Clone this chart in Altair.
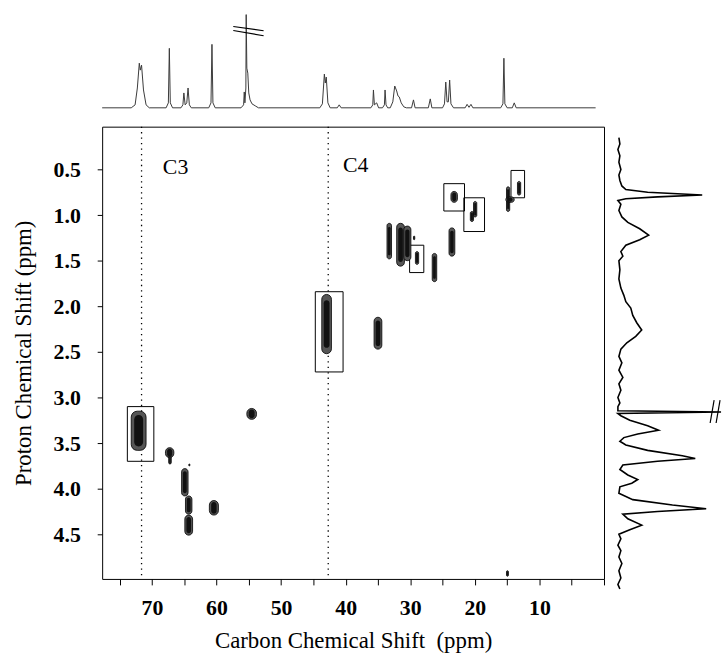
import altair as alt
import pandas as pd

# ---------------- data ----------------
# 13C projection (top): vertices of the trace, ppm and intensity
c_ppm = [77.7, 73.2, 72.6, 72.25, 71.95, 71.8, 71.6, 71.3, 70.9, 70.4,
         67.8, 67.45, 67.3, 67.15, 66.8,
         65.5, 65.2, 65.05, 64.85, 64.6, 64.4, 64.2, 63.9,
         61.2, 60.85, 60.7, 60.55, 60.2,
         56.2, 55.8, 55.7, 55.6, 55.45, 55.4, 55.3, 55.15, 55.0, 54.8, 54.5, 54.0, 53.5,
         44.0, 43.6, 43.3, 43.15, 43.0, 42.75, 42.4,
         41.3, 41.0, 40.7,
         36.1, 35.8, 35.7, 35.55, 35.2, 34.9,
         34.3, 34.0, 33.9, 33.75, 33.5,
         33.1, 32.7, 32.4, 32.1, 31.9, 31.7, 31.4, 31.0, 30.6,
         29.8, 29.5, 29.25,
         27.2, 26.9, 26.65,
         25.0, 24.7, 24.5, 24.3, 24.1, 23.9, 23.7, 23.3,
         21.5, 21.2, 20.9, 20.6, 20.3,
         16.0, 15.65, 15.5, 15.35, 15.0,
         14.2, 13.9, 13.6, 1.3]
c_int = [0, 0, 3, 20, 45, 38, 43, 18, 3, 0,
         0, 5, 60, 5, 0,
         0, 3, 15, 3, 5, 20, 3, 0,
         0, 5, 64, 5, 0,
         0, 3, 16, 5, 20, 94, 40, 35, 15, 8, 4, 2, 0,
         0, 4, 34, 25, 31, 5, 0,
         0, 3, 0,
         0, 3, 18, 3, 5, 0,
         0, 3, 18, 3, 0,
         0, 6, 22, 17, 12, 11, 5, 1, 0,
         0, 8, 0,
         0, 9, 0,
         0, 4, 26, 6, 6, 28, 4, 0,
         0, 3.5, 0.5, 3.5, 0,
         0, 4, 50, 4, 0,
         0, 5, 0, 0]
# break marks on the truncated 13C peak
c_break_x = [57.4, 57.4]
c_break_x2 = [52.7, 52.7]
c_break_y = [82, 78]
c_break_y2 = [77.7, 72.7]

# 1H projection (right): vertices of the trace, ppm and intensity
h_ppm = [0.15, 0.22, 0.28, 0.35, 0.42, 0.50, 0.56, 0.62, 0.68, 0.72, 0.75, 0.78, 0.80, 0.82, 0.84,
         0.88, 0.95, 1.02, 1.08, 1.15, 1.22, 1.27, 1.33, 1.40, 1.45, 1.50, 1.60, 1.70, 1.80,
         1.88, 1.95, 2.02, 2.10, 2.18, 2.26, 2.33, 2.40, 2.47, 2.55, 2.62, 2.70, 2.78, 2.85,
         2.92, 3.00, 3.06, 3.10, 3.145, 3.16, 3.175, 3.20, 3.25, 3.31, 3.36, 3.40, 3.44, 3.48,
         3.52, 3.58, 3.64, 3.67, 3.70, 3.74, 3.79, 3.85, 3.90, 3.94, 3.98, 4.05, 4.12, 4.18,
         4.22, 4.25, 4.28, 4.33, 4.40, 4.45, 4.50, 4.55, 4.62, 4.68, 4.75, 4.82, 4.90, 4.98,
         5.05, 5.10]
h_int = [1, 2, 0, 2, 1, 3, 1, 2, 4, 8, 30, 85, 40, 8, 0,
         3, 1, 4, 10, 22, 31, 22, 8, 3, 5, 1, 2, 1, 3,
         6, 8, 13, 15, 19, 24, 18, 9, 3, 1, 4, 1, 5, 1,
         3, 0, 2, 0, 0, 104, 0, 3, 12, 30, 41, 20, 6, 2,
         8, 30, 65, 78, 40, 5, 2, 10, 20, 14, 2, 1, 15, 55,
         89, 40, 5, 10, 24, 12, 1, 3, 0, 3, 1, 4, 1, 3,
         0, 2]
h_break_x = [93, 99]
h_break_x2 = [97, 103]
h_break_y = [3.28, 3.28]
h_break_y2 = [3.03, 3.03]

# HSQC cross peaks: carbon range and proton range (ppm)
pk_c_lo = [70.9, 66.6, 67.0, 53.8, 64.4, 63.8, 63.7, 64.1, 59.7, 42.2, 34.4, 32.9,
           30.9, 29.9, 29.3, 28.7, 25.9, 23.1, 22.7, 20.2, 19.7, 14.6, 13.9, 12.9, 14.8]
pk_c_hi = [73.2, 67.9, 67.4, 55.3, 65.4, 64.8, 64.9, 64.3, 61.1, 43.7, 35.6, 33.6,
           32.1, 31.0, 29.5, 29.2, 26.6, 24.0, 23.7, 20.7, 20.2, 15.1, 15.2, 13.4, 15.1]
pk_h_lo = [3.15, 3.55, 3.64, 3.12, 3.78, 4.08, 4.29, 3.73, 4.13, 1.87, 2.12, 1.09,
           1.09, 1.12, 1.23, 1.40, 1.42, 1.14, 0.74, 0.96, 0.85, 0.69, 0.80, 0.63, 4.90]
pk_h_hi = [3.58, 3.66, 3.73, 3.24, 4.08, 4.28, 4.51, 3.75, 4.29, 2.52, 2.47, 1.48,
           1.56, 1.50, 1.27, 1.54, 1.73, 1.45, 0.86, 1.07, 1.02, 0.96, 0.86, 0.78, 4.96]

# highlight boxes
box_c_lo = [69.7, 40.4, 27.9, 21.6, 18.5, 12.3]
box_c_hi = [73.8, 44.7, 30.1, 24.8, 21.7, 14.4]
box_h_lo = [3.10, 1.84, 1.33, 0.655, 0.81, 0.51]
box_h_hi = [3.70, 2.72, 1.63, 0.955, 1.18, 0.81]

# dotted guides and their labels
guide_c = [71.6, 42.7]
label_text = ["C3", "C4"]
label_c = [68.3, 40.4]
label_h = [0.47, 0.45]

x_ticks = [75, 70, 65, 60, 55, 50, 45, 40, 35, 30, 25, 20, 15, 10, 5, 0]
x_labels = [70, 60, 50, 40, 30, 20, 10]
y_ticks = [0.5, 1.0, 1.5, 2.0, 2.5, 3.0, 3.5, 4.0, 4.5]

# ---------------- chart ----------------
FONT = "Liberation Serif"
W, H = 506, 456

c_df = pd.DataFrame({"ppm": c_ppm, "i": c_int, "idx": range(len(c_ppm))})
h_df = pd.DataFrame({"ppm": h_ppm, "i": h_int, "idx": range(len(h_ppm))})
cb_df = pd.DataFrame({"x": c_break_x, "x2": c_break_x2, "y": c_break_y, "y2": c_break_y2})
hb_df = pd.DataFrame({"x": h_break_x, "x2": h_break_x2, "y": h_break_y, "y2": h_break_y2})
pk_df = pd.DataFrame({"c": pk_c_lo, "c2": pk_c_hi, "h": pk_h_lo, "h2": pk_h_hi})
box_df = pd.DataFrame({"c": box_c_lo, "c2": box_c_hi, "h": box_h_lo, "h2": box_h_hi})
guide_df = pd.DataFrame({"c": guide_c})
lab_df = pd.DataFrame({"c": label_c, "h": label_h, "t": label_text})

xscale = alt.Scale(domain=[0, 77.7], reverse=True, nice=False, zero=False)
yscale = alt.Scale(domain=[0.03, 4.99], reverse=True, nice=False, zero=False)

label_list = "[" + ",".join(str(v) for v in x_labels) + "]"
xaxis = alt.Axis(values=x_ticks, format="d",
                 labelExpr="indexof(" + label_list + ", datum.value) >= 0 ? datum.label : ''",
                 title="Carbon Chemical Shift \u00a0(ppm)", grid=False, domain=False,
                 tickSize=6, tickColor="black", labelFont=FONT, labelFontSize=22,
                 labelFontWeight="bold", labelColor="black", labelPadding=13,
                 titleFont=FONT, titleFontSize=23, titleFontWeight="normal",
                 titleColor="black", titlePadding=11)
yaxis = alt.Axis(values=y_ticks, format=".1f", title="Proton Chemical Shift (ppm)",
                 grid=False, domain=False, tickSize=5, tickColor="black",
                 labelFont=FONT, labelFontSize=22, labelFontWeight="bold",
                 labelColor="black", labelPadding=17, titleFont=FONT, titleFontSize=23,
                 titleFontWeight="normal", titleColor="black", titlePadding=18)

X = lambda f: alt.X(f, type="quantitative", scale=xscale, axis=xaxis)
Y = lambda f: alt.Y(f, type="quantitative", scale=yscale, axis=yaxis)

guides = alt.Chart(guide_df).mark_rule(color="black", strokeWidth=1.3,
                                       strokeDash=[1.3, 4.2]).encode(x=X("c"))
boxes = alt.Chart(box_df).mark_rect(fill=None, fillOpacity=0, stroke="black",
                                    strokeWidth=1).encode(
    x=X("c"), x2="c2", y=Y("h"), y2="h2")
peaks_out = alt.Chart(pk_df).mark_rect(fill="#555555", stroke="black", strokeWidth=0.8,
                                       cornerRadius=6).encode(
    x=X("c"), x2="c2", y=Y("h"), y2="h2")
peaks_in = alt.Chart(pk_df).transform_calculate(
    ci=("(datum.c + datum.c2) / 2 - 0.3 * (datum.c2 - datum.c)"),
    ci2=("(datum.c + datum.c2) / 2 + 0.3 * (datum.c2 - datum.c)"),
    hi=("(datum.h + datum.h2) / 2 - 0.4 * (datum.h2 - datum.h)"),
    hi2=("(datum.h + datum.h2) / 2 + 0.4 * (datum.h2 - datum.h)"),
).mark_rect(fill="#111111", cornerRadius=6).encode(
    x=X("ci"), x2="ci2", y=Y("hi"), y2="hi2")
labels = alt.Chart(lab_df).mark_text(align="left", baseline="middle", font=FONT,
                                     fontSize=22, color="black").encode(
    x=X("c"), y=Y("h"), text="t:N")

main = alt.layer(guides, boxes, peaks_out, peaks_in, labels).properties(
    width=W, height=H, view=alt.ViewBackground(stroke="black", strokeWidth=1))

top_line = alt.Chart(c_df).mark_line(color="#3a3a3a", strokeWidth=1).encode(
    x=alt.X("ppm:Q", scale=xscale, axis=None),
    y=alt.Y("i:Q", scale=alt.Scale(domain=[0, 100], nice=False, zero=False), axis=None),
    order="idx:Q")
top_break = alt.Chart(cb_df).mark_rule(color="black", strokeWidth=1.2).encode(
    x=alt.X("x:Q", scale=xscale, axis=None), x2="x2",
    y=alt.Y("y:Q", scale=alt.Scale(domain=[0, 100], nice=False, zero=False), axis=None),
    y2="y2")
top = alt.layer(top_line, top_break).properties(width=W, height=100)

iscale = alt.Scale(domain=[-9, 91], nice=False, zero=False)
right_line = alt.Chart(h_df).mark_line(color="black", strokeWidth=1.6).encode(
    x=alt.X("i:Q", scale=iscale, axis=None),
    y=alt.Y("ppm:Q", scale=yscale, axis=None),
    order="idx:Q")
right_break = alt.Chart(hb_df).mark_rule(color="black", strokeWidth=1.2).encode(
    x=alt.X("x:Q", scale=iscale, axis=None), x2="x2",
    y=alt.Y("y:Q", scale=yscale, axis=None), y2="y2")
right = alt.layer(right_line, right_break).properties(width=100, height=H)

chart = alt.vconcat(top, alt.hconcat(main, right, spacing=4), spacing=15).properties(
    padding={"left": 12, "top": 6, "right": 2, "bottom": 2},
    background="white"
).configure_view(stroke=None).configure_concat(spacing=4)

chart.save("out.html", embed_options={"renderer": "svg", "actions": False})
